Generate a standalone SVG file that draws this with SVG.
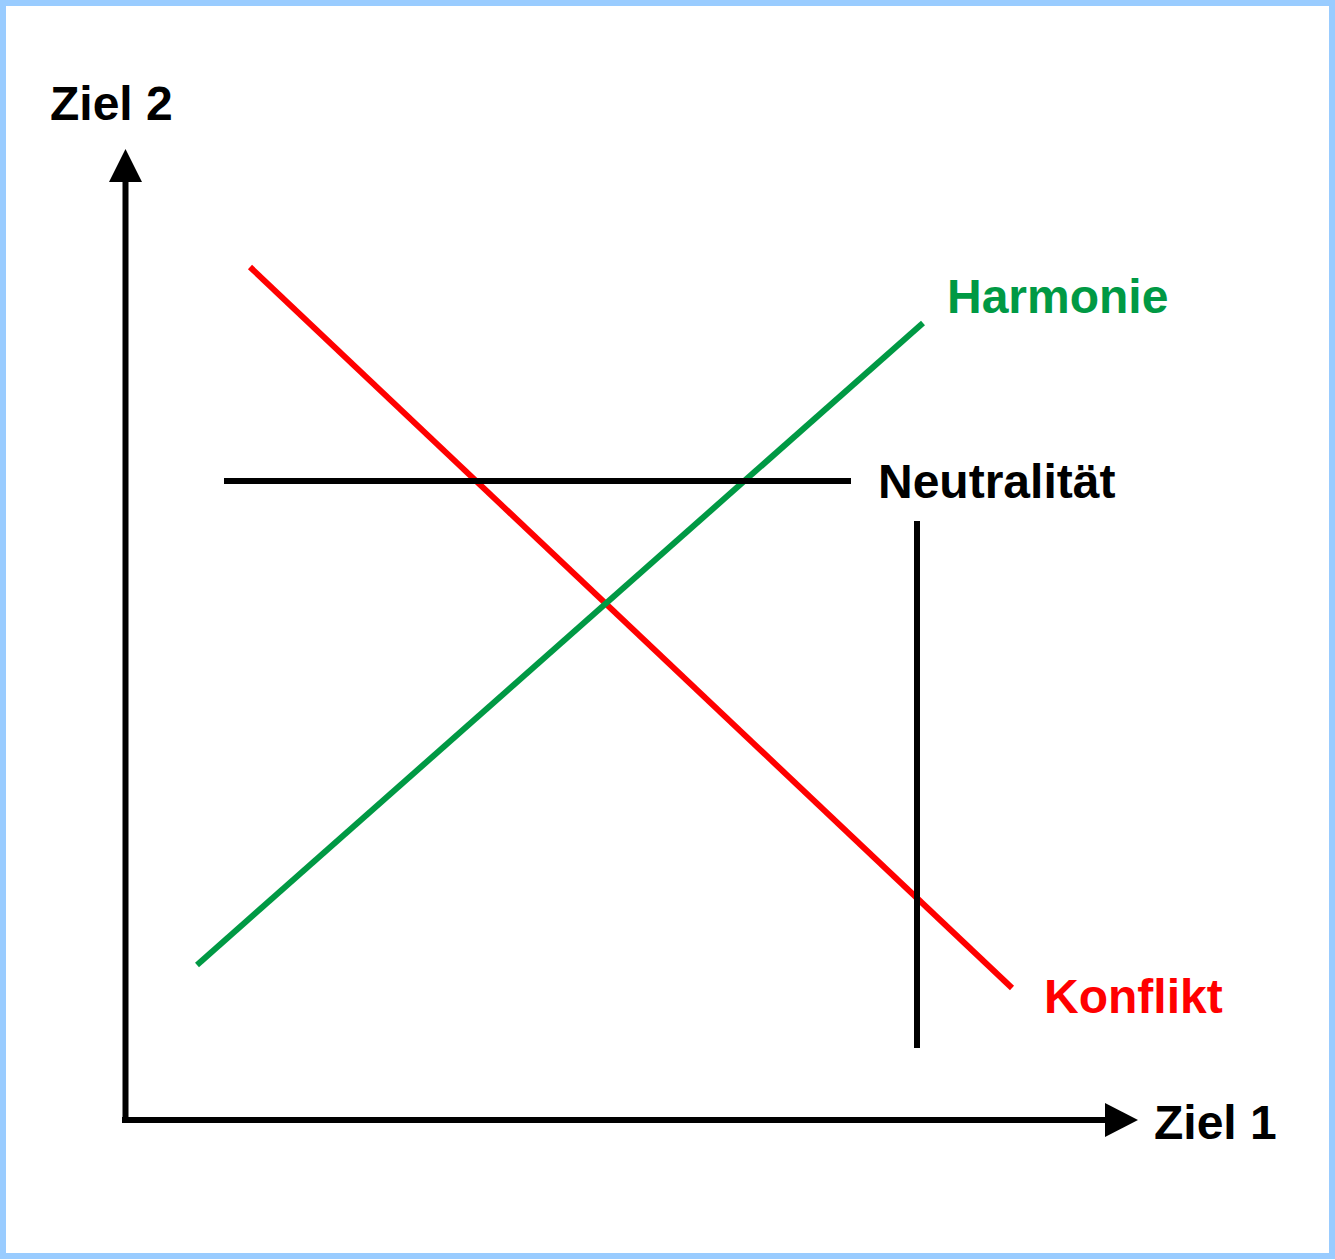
<svg xmlns="http://www.w3.org/2000/svg" width="1335" height="1260" viewBox="0 0 1335 1260">
<style>
.lbl{font-family:"Liberation Sans",Arial,sans-serif;font-weight:bold;font-size:48px}
.ln{stroke-width:6;fill:none}
</style>
<rect x="0" y="0" width="1335" height="1260" fill="#ffffff"/>
<rect x="3" y="3" width="1329" height="1253" fill="none" stroke="#99ccff" stroke-width="6"/>
<g id="connectors">
<line id="y-axis" class="ln" x1="125.5" y1="1120" x2="125.5" y2="178" stroke="#000"/>
<polygon points="125.5,149 109,182 142,182" fill="#000"/>
<line id="x-axis" class="ln" x1="122" y1="1120" x2="1108" y2="1120" stroke="#000"/>
<polygon points="1138,1120 1105,1103 1105,1137" fill="#000"/>
<line id="konflikt-line" class="ln" x1="250" y1="267" x2="1012" y2="988" stroke="#ff0000"/>
<line id="harmonie-line" class="ln" x1="197" y1="965" x2="923" y2="323" stroke="#009944"/>
<line id="neutral-h" class="ln" x1="224" y1="481" x2="851" y2="481" stroke="#000"/>
<line id="neutral-v" class="ln" x1="917" y1="521" x2="917" y2="1048" stroke="#000"/>
</g>
<g id="ziel2"><text class="lbl" x="50" y="120" fill="#000">Ziel 2</text></g>
<g id="ziel1"><text class="lbl" x="1154" y="1139" fill="#000">Ziel 1</text></g>
<g id="harmonie"><text class="lbl" x="947" y="313" fill="#009944">Harmonie</text></g>
<g id="neutralitaet"><text class="lbl" x="878" y="498" fill="#000">Neutralität</text></g>
<g id="konflikt"><text class="lbl" x="1044" y="1013" fill="#ff0000">Konflikt</text></g>
</svg>
